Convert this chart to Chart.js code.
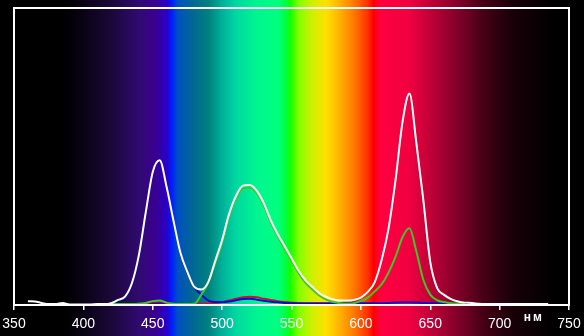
<!DOCTYPE html>
<html>
<head>
<meta charset="utf-8">
<script src="https://cdn.jsdelivr.net/npm/chart.js@4.4.1/dist/chart.umd.min.js"></script>
<style>
  html, body { margin: 0; padding: 0; background: #000; }
  #wrap { width: 584px; height: 336px; }
</style>
</head>
<body>
<div id="wrap"><canvas id="grafico"></canvas></div>
<script>
// длины волн, нм
const longitudes = [355, 360, 365, 370, 375, 380, 385, 390, 395, 400, 405, 410, 415, 420, 425, 430, 435, 440, 445, 450,
  455, 460, 465, 470, 475, 480, 485, 490, 495, 500, 505, 510, 515, 520, 525, 530, 535, 540, 545, 550,
  555, 560, 565, 570, 575, 580, 585, 590, 595, 600, 605, 610, 615, 620, 625, 630, 635, 640, 645, 650,
  655, 660, 665, 670, 675, 680, 685, 690, 695, 700, 705, 710, 715, 720, 725, 730, 735, 740]

const blanco = [null, 0.013, 0.012, 0.007, 0.003, 0.003, 0.007, 0.002, 0.002, 0.002, 0.002, 0.003, 0.003, 0.006, 0.017, 0.028, 0.074, 0.168, 0.313, 0.448,
  0.487, 0.397, 0.283, 0.175, 0.111, 0.061, 0.052, 0.077, 0.148, 0.219, 0.306, 0.367, 0.402, 0.404, 0.384, 0.343, 0.286, 0.239, 0.199, 0.158,
  0.116, 0.084, 0.061, 0.040, 0.027, 0.019, 0.015, 0.015, 0.017, 0.025, 0.044, 0.077, 0.152, 0.259, 0.421, 0.616, 0.712, 0.545, 0.354, 0.145,
  0.057, 0.034, 0.020, 0.012, 0.008, 0.007, 0.004, 0.003, 0.003, 0.003, 0.003, 0.003, 0.003, 0.003, 0.003, 0.003, 0.003, null]

const verde = [null, null, null, null, null, null, null, null, null, null, null, null, null, 0.003, 0.003, 0.003, 0.003, 0.004, 0.007, 0.013,
  0.015, 0.008, 0.004, 0.003, 0.003, 0.004, 0.035, 0.075, 0.140, 0.210, 0.298, 0.358, 0.393, 0.396, 0.377, 0.336, 0.279, 0.232, 0.190, 0.150,
  0.108, 0.075, 0.052, 0.032, 0.018, 0.010, 0.006, 0.004, 0.006, 0.014, 0.025, 0.046, 0.070, 0.110, 0.163, 0.228, 0.258, 0.180, 0.085, 0.035,
  0.016, 0.010, 0.006, 0.004, 0.003, null, null, null, null, null, null, null, null, null, null, null, null, null]

const azul = [null, null, null, null, null, null, null, null, null, null, null, null, null, 0.004, 0.015, 0.026, 0.072, 0.165, 0.310, 0.445,
  0.485, 0.395, 0.280, 0.172, 0.108, 0.060, 0.035, 0.015, 0.010, 0.010, 0.012, 0.016, 0.020, 0.021, 0.018, 0.014, 0.011, 0.009, 0.007, 0.006,
  0.005, 0.005, 0.005, 0.005, 0.005, 0.005, 0.005, 0.005, 0.005, 0.006, 0.006, 0.006, 0.006, 0.007, 0.008, 0.009, 0.009, 0.008, 0.007, 0.006,
  0.005, 0.005, 0.005, 0.004, 0.004, null, null, null, null, null, null, null, null, null, null, null, null, null]

const rojo = [null, null, null, null, null, null, null, null, null, null, null, null, null, 0.003, 0.003, 0.003, 0.003, 0.004, 0.006, 0.011,
  0.013, 0.007, 0.004, 0.003, 0.003, 0.003, 0.004, 0.005, 0.007, 0.010, 0.015, 0.021, 0.026, 0.028, 0.026, 0.021, 0.017, 0.013, 0.010, 0.008,
  0.007, 0.006, 0.006, 0.006, 0.006, 0.006, 0.007, 0.008, 0.011, 0.022, 0.042, 0.075, 0.150, 0.257, 0.419, 0.614, 0.710, 0.543, 0.352, 0.143,
  0.055, 0.032, 0.018, 0.010, 0.006, null, null, null, null, null, null, null, null, null, null, null, null, null]

// colores del fondo (espectro) por longitud de onda
const espectroNm = [350, 385, 395, 420, 440, 452, 460, 464, 468, 480, 490, 500, 510, 525, 540, 546, 549, 555, 565, 575,
  585, 595, 605, 609, 614, 635, 650, 670, 690, 710, 738, 750]
const espectroColor = ['#000000', '#000000', '#06020c', '#1a0838', '#300a70', '#3a0090', '#2800c8', '#0020ff', '#0050c0', '#006a90',
  '#00807f', '#00b09a', '#00d8a0', '#00f590', '#00ff80', '#00ff40', '#10ff00', '#80ff00', '#d0f000', '#ffe000',
  '#ffb000', '#ff7800', '#ff3000', '#ff0000', '#ff0040', '#f00040', '#c00038', '#80002a', '#400014', '#180008', '#000000', '#000000']

const fondoEspectro = {
  id: 'fondoEspectro',
  beforeDraw(chart) {
    const ctx = chart.ctx
    const x = chart.scales.x
    const x0 = x.getPixelForValue(350)
    const x1 = x.getPixelForValue(750)
    ctx.save()
    ctx.fillStyle = '#000'
    ctx.fillRect(0, 0, chart.width, chart.height)
    const grad = ctx.createLinearGradient(x0, 0, x1, 0)
    espectroNm.forEach((nm, i) => grad.addColorStop((nm - 350) / 400, espectroColor[i]))
    ctx.fillStyle = grad
    ctx.fillRect(x0, 0, x1 - x0, chart.height)
    ctx.restore()
  },
  afterDraw(chart) {
    const ctx = chart.ctx
    const a = chart.chartArea
    ctx.save()
    ctx.strokeStyle = '#fff'
    ctx.lineWidth = 2
    ctx.strokeRect(a.left, a.top, a.right - a.left, a.bottom - a.top)
    // unidad del eje
    ctx.fillStyle = '#fff'
    ctx.font = 'bold 12px "Liberation Sans", Arial, sans-serif'
    ctx.letterSpacing = '2px'
    ctx.textAlign = 'center'
    ctx.textBaseline = 'alphabetic'
    ctx.fillText('нм', chart.scales.x.getPixelForValue(724) + 1, a.bottom + 16)
    ctx.restore()
  }
}

const serie = (label, datos, color) => ({
  label,
  data: datos.map((v, i) => ({ x: longitudes[i], y: v })),
  borderColor: color,
  borderWidth: 2,
  pointRadius: 0,
  fill: false,
  cubicInterpolationMode: 'monotone',
  spanGaps: false
})

const config = {
  type: 'line',
  data: {
    datasets: [
      serie('Белый', blanco, '#ffffff'),
      serie('Зелёный', verde, '#3cc828'),
      serie('Синий', azul, '#0a0ad2'),
      serie('Красный', rojo, '#d01030')
    ]
  },
  options: {
    responsive: true,
    maintainAspectRatio: false,
    animation: false,
    layout: { padding: { left: 14, right: 15, top: 8, bottom: 0 } },
    plugins: { legend: { display: false }, tooltip: { enabled: false } },
    scales: {
      x: {
        type: 'linear',
        min: 350,
        max: 750,
        border: { display: false },
        grid: { drawOnChartArea: false, color: '#fff', lineWidth: 1.5, tickLength: 5 },
        ticks: {
          stepSize: 50,
          color: '#fff',
          padding: 6,
          maxRotation: 0,
          font: { family: '"Liberation Sans", Arial, sans-serif', size: 14 }
        },
        afterFit(scale) {
          scale.height = 31
          scale.paddingLeft = 0
          scale.paddingRight = 0
        }
      },
      y: {
        display: false,
        min: 0,
        max: 1
      }
    }
  },
  plugins: [fondoEspectro]
}

const grafico = document.querySelector('#grafico')
new Chart(grafico, config)
</script>
</body>
</html>
